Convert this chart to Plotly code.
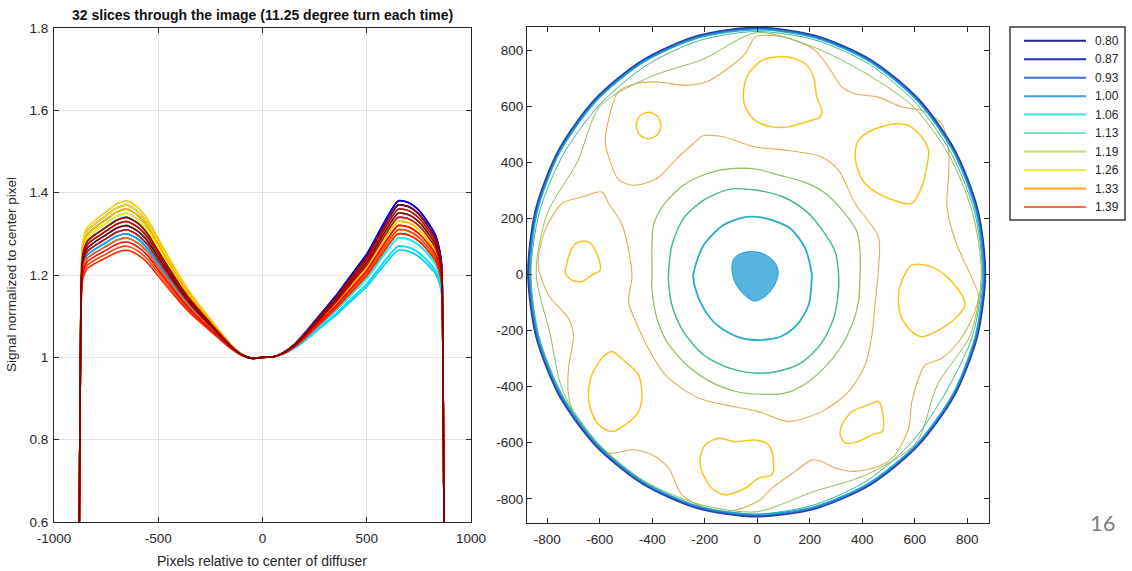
import numpy as np
import plotly.graph_objects as go

# ---------------- Left panel: 32 radial slices ----------------
# normalised profile shape (0 at centre, 1 at the peak)
left_shape_x = [-868, -860, -840, -800, -750, -700, -650, -600, -550, -500, -450, -400,
                -350, -300, -250, -200, -150, -100, -50, 0]
left_shape_s = [0.60, 0.75, 0.83, 0.88, 0.93, 0.98, 1.00, 0.96, 0.88, 0.76, 0.64, 0.525,
                0.42, 0.33, 0.245, 0.16, 0.08, 0.02, -0.008, 0.0]
right_shape_x = [50, 100, 150, 200, 250, 300, 350, 400, 450, 500, 550, 600, 650, 700,
                 750, 800, 830, 850, 860]
right_shape_s = [0.003, 0.03, 0.08, 0.15, 0.23, 0.31, 0.39, 0.48, 0.57, 0.66, 0.78, 0.90,
                 1.00, 0.99, 0.94, 0.85, 0.78, 0.68, 0.58]
left_edge_x = [-880, -874]
left_edge_v = [0.50, 0.95]
right_edge_x = [866, 872]
right_edge_v = [0.95, 0.50]

# peak heights of the 32 slices (left / right), in slice order (blue -> dark red)
peak_left = [1.32, 1.34, 1.37, 1.36, 1.35, 1.33, 1.31, 1.30, 1.29, 1.30, 1.29, 1.31,
             1.32, 1.33, 1.34, 1.33, 1.35, 1.36, 1.36, 1.35, 1.37, 1.38, 1.36, 1.33,
             1.29, 1.27, 1.26, 1.28, 1.31, 1.33, 1.34, 1.32]
peak_right = [1.35, 1.37, 1.38, 1.38, 1.37, 1.36, 1.34, 1.31, 1.29, 1.27, 1.26, 1.27,
              1.29, 1.31, 1.32, 1.34, 1.35, 1.36, 1.35, 1.33, 1.32, 1.33, 1.32, 1.31,
              1.30, 1.31, 1.30, 1.32, 1.34, 1.36, 1.37, 1.35]

x_ticks = [-1000, -500, 0, 500, 1000]
x_ticklabels = ["-1000", "-500", "0", "500", "1000"]
y_ticks = [0.6, 0.8, 1.0, 1.2, 1.4, 1.6, 1.8]
y_ticklabels = ["0.6", "0.8", "1", "1.2", "1.4", "1.6", "1.8"]
map_ticks = [-800, -600, -400, -200, 0, 200, 400, 600, 800]
map_ticklabels = ["-800", "-600", "-400", "-200", "0", "200", "400", "600", "800"]

# ---------------- Right panel: contour lines ----------------
ring_theta = [0, 15, 30, 45, 60, 75, 90, 105, 120, 135, 150, 165, 180, 195, 210, 225,
              240, 255, 270, 285, 300, 315, 330, 345]
edge_center = [-2, 4]
edge_r_080 = [872, 873, 874, 876, 877, 877, 877, 877, 876, 875, 874, 873, 872, 871, 870,
              869, 868, 868, 868, 869, 870, 870, 871, 871]
edge_levels = ["0.80", "0.87", "0.93", "1.00", "1.06"]
edge_inset = [0, 2, 4, 6, 9]
edge_r_113 = [860, 858, 856, 858, 860, 861, 862, 858, 852, 848, 850, 856, 860, 859, 858,
              858, 859, 860, 858, 854, 850, 843, 836, 852]
edge_r_119 = [856, 850, 845, 842, 825, 835, 858, 790, 809, 843, 790, 826, 840, 816, 850,
              855, 855, 852, 850, 808, 830, 857, 795, 843]

ring106_x = [-243, -204, -128, -39, 37, 126, 183, 208, 208, 196, 151, 88, -1, -77, -154,
             -204, -236]
ring106_y = [0, 104, 176, 205, 199, 164, 93, 0, -14, -109, -180, -222, -234, -222, -180,
             -121, -50]
ring113_x = [-338, -325, -281, -204, -103, -1, 100, 189, 253, 297, 310, 310, 291, 240, 164,
             75, -1, -103, -204, -281, -325, -338]
ring113_y = [0, 104, 199, 265, 304, 300, 276, 223, 152, 81, 0, -50, -157, -251, -317, -346,
             -352, -335, -287, -204, -109, -26]
ring119_x = [-401, -395, -357, -281, -192, -103, -1, 88, 177, 253, 329, 380, 392, 392, 386,
             361, 316, 253, 177, 100, 11, -77, -179, -268, -344, -382, -401]
ring119_y = [0, 176, 247, 318, 359, 377, 375, 353, 330, 294, 223, 152, 81, 0, -97, -180,
             -263, -335, -394, -424, -427, -418, -382, -323, -240, -157, -50]

tan_x = [-833, -808, -744, -668, -592, -566, -516, -490, -477, -490, -452, -401, -350, -287,
         -223, -122, 5, 119, 246, 348, 411, 437, 450, 462, 462, 373, 310, 246, 119, -8,
         -130, -206, -245, -306, -382, -472, -530, -566, -579, -554, -530, -465, -376, -274,
         -192, -122, -46, -8, 56, 145, 221, 272, 323, 373, 462, 551, 627, 703, 729, 729, 723,
         754, 818, 843, 818, 767, 703, 640, 615, 589, 577, 526, 475, 373, 297, 246, 208, 145,
         56, 11, -58, -122, -198, -287, -338, -401, -477, -566, -630, -693, -719, -719, -700,
         -719, -795, -833]
tan_y = [63, 158, 253, 276, 294, 253, 181, 87, -8, -97, -192, -287, -358, -406, -441, -465,
         -489, -524, -489, -418, -323, -216, -97, 21, 134, 253, 371, 419, 442, 454, 491, 494,
         465, 413, 342, 318, 340, 419, 478, 597, 651, 680, 686, 674, 687, 727, 786, 846, 852,
         834, 798, 739, 668, 644, 632, 597, 585, 537, 442, 359, 241, 122, -14, -74, -157,
         -240, -299, -323, -370, -453, -548, -643, -679, -702, -690, -667, -661, -702, -762,
         -803, -833, -845, -833, -785, -690, -643, -625, -637, -584, -512, -429, -335, -216,
         -157, -74, 21]

islands_x = [
    [-414, -380, -367, -380, -414, -448, -461, -448],
    [-52, -33, 18, 69, 119, 183, 215, 227, 246, 240, 183, 119, 56, -8, -46],
    [373, 386, 437, 526, 577, 627, 653, 646, 627, 589, 538, 462, 411, 380],
    [589, 665, 729, 780, 792, 754, 703, 627, 589, 551, 538, 545],
    [323, 361, 424, 462, 481, 475, 437, 386, 335, 316],
    [-198, -147, -84, -8, 43, 62, 56, 5, -46, -122, -173, -211, -217],
    [-630, -592, -554, -503, -452, -439, -452, -503, -554, -604, -636, -643],
    [-719, -693, -643, -611, -598, -630, -668, -706, -731, -725],
]
islands_y = [
    [578, 564, 531, 498, 484, 498, 531, 564],
    [656, 715, 763, 775, 775, 751, 703, 632, 585, 561, 543, 526, 526, 549, 597],
    [431, 478, 514, 537, 531, 490, 442, 383, 312, 253, 259, 288, 324, 383],
    [33, 27, -14, -74, -109, -157, -192, -222, -204, -157, -97, -38],
    [-536, -489, -465, -453, -512, -560, -572, -595, -601, -572],
    [-607, -584, -596, -590, -607, -667, -714, -726, -762, -785, -762, -702, -655],
    [-358, -299, -275, -311, -358, -429, -489, -536, -560, -536, -477, -418],
    [63, 110, 116, 75, 15, -2, -26, -20, 4, 39],
]

blob_x = [-95, -80, -40, 10, 40, 65, 80, 70, 50, 20, -10, -40, -70, -90]
blob_y = [40, 65, 80, 78, 65, 45, 10, -30, -60, -85, -95, -80, -50, -15]

level_colors = {"0.80": "#2b3f9e", "0.87": "#2463cf", "0.93": "#1d84db", "1.00": "#1e9bd7",
                "1.06": "#22afc4", "1.13": "#3db59a", "1.19": "#8dbf56", "1.26": "#dcb04e",
                "1.33": "#f6c51d"}

legend_levels = ["0.80", "0.87", "0.93", "1.00", "1.06", "1.13", "1.19", "1.26", "1.33", "1.39"]
legend_colors = ["#1d2a8c", "#1f2fb2", "#3a70d0", "#3aa2e0", "#3fe0e8", "#7de8c0", "#b5e36c",
                 "#efef3a", "#ffa820", "#ff6b3c"]

FONT = "Liberation Sans, Arial, sans-serif"
TXT = "#262626"


def jet(t):
    r = min(max(1.5 - abs(4 * t - 3), 0), 1)
    g = min(max(1.5 - abs(4 * t - 2), 0), 1)
    b = min(max(1.5 - abs(4 * t - 1), 0), 1)
    return "rgb(%d,%d,%d)" % (r * 255, g * 255, b * 255)


fig = go.Figure()

# ---- left panel traces
n = len(peak_left)
for i in range(n):
    pl, pr = peak_left[i], peak_right[i]
    xs = left_edge_x + left_shape_x + right_shape_x + right_edge_x
    ys = (left_edge_v + [1 + (pl - 1) * s for s in left_shape_s]
          + [1 + (pr - 1) * s for s in right_shape_s] + right_edge_v)
    fig.add_trace(go.Scatter(x=xs, y=ys, mode="lines",
                             line=dict(color=jet(i / (n - 1)), width=1.6, shape="spline", smoothing=0.6),
                             xaxis="x", yaxis="y", hoverinfo="skip"))


# ---- right panel traces
def polar_loop(rlist):
    th = np.radians(ring_theta + [ring_theta[0]])
    rr = np.array(rlist + [rlist[0]])
    return edge_center[0] + rr * np.cos(th), edge_center[1] + rr * np.sin(th)


def closed(a):
    return list(a) + [a[0]]


def add_line(x, y, color, width=1.0, shape="spline"):
    fig.add_trace(go.Scatter(x=x, y=y, mode="lines", line=dict(color=color, width=width, shape=shape, smoothing=0.8),
                             xaxis="x2", yaxis="y2", hoverinfo="skip"))


# centre blob (1.00)
fig.add_trace(go.Scatter(x=closed(blob_x), y=closed(blob_y), mode="lines", fill="toself",
                         fillcolor="rgba(30,155,215,0.75)", line=dict(color=level_colors["1.00"], width=1, shape="spline"),
                         xaxis="x2", yaxis="y2", hoverinfo="skip"))
add_line(closed(ring106_x), closed(ring106_y), level_colors["1.06"], 1.8)
add_line(closed(ring113_x), closed(ring113_y), level_colors["1.13"], 1.4)
add_line(closed(ring119_x), closed(ring119_y), level_colors["1.19"], 1.2)
add_line(closed(tan_x), closed(tan_y), level_colors["1.26"], 1.1)
for ix, iy in zip(islands_x, islands_y):
    add_line(closed(ix), closed(iy), level_colors["1.33"], 1.5)

ex, ey = polar_loop(edge_r_119)
add_line(ex, ey, level_colors["1.19"], 1.0)
ex, ey = polar_loop(edge_r_113)
add_line(ex, ey, level_colors["1.13"], 1.0)
for lvl, inset in zip(edge_levels[::-1], edge_inset[::-1]):
    ex, ey = polar_loop([r - inset for r in edge_r_080])
    add_line(ex, ey, level_colors[lvl], 1.3)

# ---- layout
W, H = 1132, 571
axis_common = dict(showline=True, linecolor=TXT, linewidth=1, mirror="allticks", ticks="inside",
                   ticklen=5, tickcolor=TXT, tickfont=dict(family=FONT, size=13.5, color=TXT),
                   zeroline=False, fixedrange=True, automargin=False)
fig.update_layout(
    width=W, height=H, margin=dict(l=0, r=0, t=0, b=0), showlegend=False,
    paper_bgcolor="white", plot_bgcolor="white",
    xaxis=dict(domain=[54 / W, 471 / W], range=[-1000, 1000], tickvals=x_ticks, ticktext=x_ticklabels,
               showgrid=True, gridcolor="#e3e3e3", anchor="y", ticklabelstandoff=4, **axis_common),
    yaxis=dict(domain=[(H - 522) / H, (H - 28) / H], range=[0.6, 1.8],
               tickvals=y_ticks, ticktext=y_ticklabels, ticklabelstandoff=2,
               showgrid=True, gridcolor="#e3e3e3", anchor="x", **axis_common),
    xaxis2=dict(domain=[527 / W, 989 / W], range=[-877, 883], tickvals=map_ticks, ticktext=map_ticklabels,
                showgrid=False, anchor="y2", ticklabelstandoff=4, **axis_common),
    yaxis2=dict(domain=[(H - 523) / H, (H - 27) / H], range=[-886, 882],
                tickvals=map_ticks, ticktext=map_ticklabels,
                showgrid=False, anchor="x2", **axis_common),
)

ann = [
    dict(text="<b>32 slices through the image (11.25 degree turn each time)</b>", x=262 / W, y=1 - 15 / H,
         xref="paper", yref="paper", showarrow=False, xanchor="center", yanchor="middle",
         font=dict(family=FONT, size=14, color="#111111")),
    dict(text="Pixels relative to center of diffuser", x=262 / W, y=1 - 561 / H, xref="paper", yref="paper",
         showarrow=False, xanchor="center", yanchor="middle", font=dict(family=FONT, size=14, color=TXT)),
    dict(text="Signal normalized to center pixel", x=12 / W, y=1 - 275 / H, xref="paper", yref="paper",
         showarrow=False, xanchor="center", yanchor="middle", textangle=-90,
         font=dict(family=FONT, size=13.5, color=TXT)),
    dict(text="16", x=1103 / W, y=1 - 522 / H, xref="paper", yref="paper", showarrow=False,
         xanchor="center", yanchor="middle", font=dict(family="Lato, Open Sans, sans-serif", size=22, color="#7f7f7f")),
]
shapes = [dict(type="rect", xref="paper", yref="paper", x0=1010 / W, x1=1125 / W, y0=1 - 220 / H, y1=1 - 27 / H,
               line=dict(color="#3a3a3a", width=1.5), fillcolor="white")]
for k, (lv, col) in enumerate(zip(legend_levels, legend_colors)):
    py = 40.7 + 18.48 * k
    shapes.append(dict(type="line", xref="paper", yref="paper", x0=1024 / W, x1=1086 / W,
                       y0=1 - py / H, y1=1 - py / H, line=dict(color=col, width=2)))
    ann.append(dict(text=lv, x=1093 / W, y=1 - py / H, xref="paper", yref="paper", showarrow=False,
                    xanchor="left", yanchor="middle", font=dict(family=FONT, size=12, color=TXT)))
fig.update_layout(annotations=ann, shapes=shapes)

fig.write_html("out.html")
